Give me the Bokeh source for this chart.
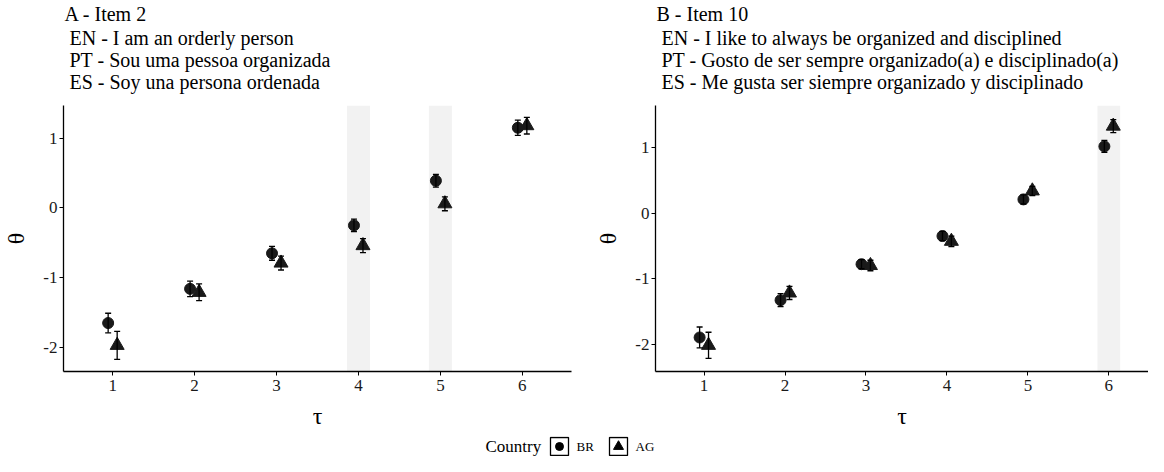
from bokeh.plotting import figure
from bokeh.models import (ColumnDataSource, Whisker, TeeHead, BoxAnnotation, Title,
                          FixedTicker, CustomJSTickFormatter)
from bokeh.core.properties import value
from bokeh.layouts import row, column
from bokeh.embed import file_html
from bokeh.resources import INLINE

# ---------------- data ----------------
tau = [1, 2, 3, 4, 5, 6]

a_br = [-1.65, -1.16, -0.65, -0.25, 0.39, 1.15]
a_br_err = [0.14, 0.11, 0.10, 0.09, 0.09, 0.11]
a_ag = [-1.97, -1.21, -0.79, -0.54, 0.06, 1.18]
a_ag_err = [0.20, 0.12, 0.10, 0.10, 0.10, 0.12]
a_highlight = [4, 5]

b_br = [-1.90, -1.33, -0.78, -0.35, 0.21, 1.02]
b_br_err = [0.16, 0.10, 0.07, 0.07, 0.07, 0.09]
b_ag = [-2.02, -1.22, -0.80, -0.43, 0.34, 1.33]
b_ag_err = [0.20, 0.10, 0.08, 0.08, 0.07, 0.10]
b_highlight = [6]

a_title = "A - Item 2"
a_lines = ["EN - I am an orderly person",
           "PT - Sou uma pessoa organizada",
           "ES - Soy una persona ordenada"]
b_title = "B - Item 10"
b_lines = ["EN - I like to always be organized and disciplined",
           "PT - Gosto de ser sempre organizado(a) e disciplinado(a)",
           "ES - Me gusta ser siempre organizado y disciplinado"]

countries = ["BR", "AG"]
country_markers = ["circle", "triangle"]
y_ticks = [-2, -1, 0, 1]

FONT = "Liberation Serif"
INK = "#1a1a1a"
DODGE = 0.055
MINUS_FMT = CustomJSTickFormatter(code="return tick.toFixed(0)")


def panel(br, br_err, ag, ag_err, highlight, title, lines, width, left, right, xr, yr):
    p = figure(width=width, height=436, x_range=xr, y_range=yr,
               output_backend="svg", toolbar_location=None, title_location=None,
               min_border_left=left, min_border_right=right,
               min_border_top=101, min_border_bottom=65)
    p.outline_line_color = None
    p.xgrid.visible = False
    p.ygrid.visible = False

    for h in highlight:
        p.add_layout(BoxAnnotation(left=h - 0.14, right=h + 0.14,
                                   fill_color="#F2F2F2", fill_alpha=1.0,
                                   line_color=None, level="underlay"))

    for vals, errs, off, marker, size in ((br, br_err, -DODGE, "circle", 11),
                                          (ag, ag_err, DODGE, "triangle", 14)):
        src = ColumnDataSource(dict(
            x=[t + off for t in tau], y=vals,
            lower=[v - e for v, e in zip(vals, errs)],
            upper=[v + e for v, e in zip(vals, errs)]))
        p.scatter("x", "y", source=src, marker=marker, size=size,
                  fill_color=INK, line_color=INK)
        p.add_layout(Whisker(source=src, base="x", lower="lower", upper="upper",
                             line_color="black", line_width=1.3, level="annotation",
                             upper_head=TeeHead(size=6, line_color="black", line_width=1.3),
                             lower_head=TeeHead(size=6, line_color="black", line_width=1.3)))

    # spacer between frame and the title block, then subtitle block, then title
    p.add_layout(Title(text=" ", text_font_size="1px", standoff=10), "above")
    p.add_layout(Title(text="\n".join(lines), align="left", offset=6, standoff=0,
                       text_font=FONT, text_font_size="20px", text_line_height=1.0,
                       text_font_style="normal", text_color="black"), "above")
    p.add_layout(Title(text=title, align="left", offset=1, standoff=0,
                       text_font=FONT, text_font_size="20px",
                       text_font_style="normal", text_color="black"), "above")

    p.xaxis.ticker = FixedTicker(ticks=tau)
    p.yaxis.ticker = FixedTicker(ticks=y_ticks)
    p.yaxis.formatter = MINUS_FMT
    p.xaxis.axis_label = "τ"
    p.yaxis.axis_label = "θ"
    for ax in (p.xaxis, p.yaxis):
        ax.axis_line_color = "black"
        ax.axis_line_width = 1.3
        ax.major_tick_line_color = "black"
        ax.major_tick_line_width = 1.0
        ax.major_tick_out = 4
        ax.major_tick_in = 0
        ax.minor_tick_line_color = None
        ax.major_label_text_font = FONT
        ax.major_label_text_font_size = "17px"
        ax.major_label_text_color = "#1a1a1a"
        ax.axis_label_text_font = FONT
        ax.axis_label_text_font_size = "24px"
        ax.axis_label_text_font_style = "normal"
        ax.axis_label_text_color = "black"
    p.xaxis.major_label_standoff = 4
    p.xaxis.axis_label_standoff = 9
    p.yaxis.major_label_standoff = 2
    p.yaxis.axis_label_standoff = 11
    return p


pa = panel(a_br, a_br_err, a_ag, a_ag_err, a_highlight, a_title, a_lines,
           592, 60, 21, (0.40, 6.60), (-2.345, 1.469))
pb = panel(b_br, b_br_err, b_ag, b_ag_err, b_highlight, b_title, b_lines,
           556, 56, 0, (0.40, 6.49), (-2.42, 1.645))

# ---------------- legend strip (pixel-scaled ranges) ----------------
LW, LH = 1148, 20
lf = figure(width=LW, height=LH, x_range=(0, LW), y_range=(0, LH),
            output_backend="svg", toolbar_location=None, title_location=None,
            min_border=0)
lf.outline_line_color = None
lf.axis.visible = False
lf.grid.visible = False

KEY = 18
cy = LH / 2
x0 = 485                      # left edge of "Country"
title_w, gap1, lab_gap, item_gap = 56, 9, 8, 16
lab_w = [17, 19]
lf.text(x=[x0], y=[cy], text=["Country"], text_font=value(FONT),
        text_font_size="17px", text_baseline="middle", text_align="left", text_color="black")
xk = x0 + title_w + gap1
for name, mk, lw in zip(countries, country_markers, lab_w):
    kx = xk + KEY / 2
    lf.rect(x=[kx], y=[cy], width=KEY, height=KEY, fill_color="white",
            line_color="black", line_width=1.3)
    lf.scatter(x=[kx], y=[cy], marker=mk, size=8 if mk == "circle" else 10,
               fill_color="black", line_color="black")
    lf.text(x=[xk + KEY + lab_gap], y=[cy], text=[name], text_font=value(FONT),
            text_font_size="13px", text_baseline="middle", text_align="left", text_color="black")
    xk += KEY + lab_gap + lw + item_gap

layout = column(row(pa, pb), lf)
open("out.html", "w").write(file_html(layout, INLINE))
